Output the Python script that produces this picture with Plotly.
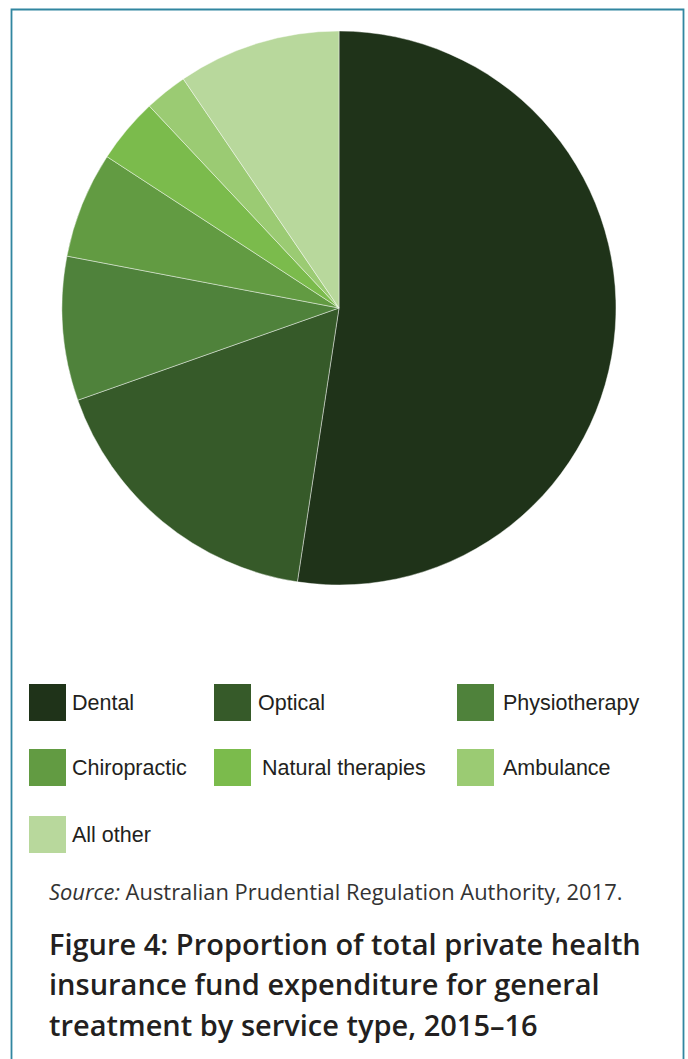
import plotly.graph_objects as go

# Share of general treatment benefits by service type (%)
services = ["Dental", "Optical", "Physiotherapy", "Chiropractic",
            "Natural therapies", "Ambulance", "All other"]
shares = [52.4, 17.2, 8.4, 6.2, 3.8, 2.5, 9.5]
colors = ["#1f3319", "#365a29", "#4f823b", "#629b42",
          "#7bbb4c", "#9bcb73", "#b8d89c"]

source_label = "Source:"
source_text = "Australian Prudential Regulation Authority, 2017."
title_lines = ["Figure 4: Proportion of total private health",
               "insurance fund expenditure for general",
               "treatment by service type, 2015–16"]

W, H = 688, 1059


def px(x):
    return x / W


def py(y):
    return 1 - y / H


# Pie geometry in pixels
cx, cy, r = 339, 308, 277

fig = go.Figure(go.Pie(
    labels=services,
    values=shares,
    sort=False,
    direction="clockwise",
    rotation=0,
    marker=dict(colors=colors, line=dict(color="rgba(255,255,255,0.55)", width=0.8)),
    textinfo="none",
    hoverinfo="label+percent",
    showlegend=False,
    domain=dict(x=[px(cx - r), px(cx + r)], y=[py(cy + r), py(cy - r)]),
))

shapes = []
annotations = []

# Outer frame
shapes.append(dict(type="rect", xref="paper", yref="paper",
                   x0=px(11.5), x1=px(683.5), y0=py(1075), y1=py(9.5),
                   line=dict(color="#3186a0", width=1.8), fillcolor="rgba(0,0,0,0)", layer="below"))

# Manual legend: 3 columns
col_sq = [29, 214, 457]
col_txt = [70, 256, 501]
row_cy = [702.5, 767.5, 834.5]
sq = 37
for i, (name, col) in enumerate(zip(services, colors)):
    row, c = divmod(i, 3)
    yc = row_cy[row]
    shapes.append(dict(type="rect", xref="paper", yref="paper",
                       x0=px(col_sq[c]), x1=px(col_sq[c] + sq),
                       y0=py(yc + sq / 2), y1=py(yc - sq / 2),
                       fillcolor=col, line=dict(width=0)))
    tx = col_txt[c] + (4 if name == "Natural therapies" else 0)
    annotations.append(dict(x=px(tx), y=py(yc + 0.5), xref="paper", yref="paper",
                            text=name, showarrow=False, xanchor="left", yanchor="middle",
                            font=dict(family="Liberation Sans, Arial", size=21.5, color="#231f20")))

# Source note
annotations.append(dict(x=px(47), y=py(891), xref="paper", yref="paper",
                        text=f"<i>{source_label}</i> {source_text}", showarrow=False,
                        xanchor="left", yanchor="middle",
                        font=dict(family="Open Sans", size=21.9, color="#333333")))

# Figure title
for k, line in enumerate(title_lines):
    annotations.append(dict(x=px(47), y=py(943 + 40.5 * k), xref="paper", yref="paper",
                            text=line, showarrow=False,
                            xanchor="left", yanchor="middle",
                            font=dict(family="Open Sans", size=29, weight=600, color="#231f20")))

fig.update_layout(
    width=W, height=H,
    margin=dict(l=0, r=0, t=0, b=0),
    paper_bgcolor="white",
    plot_bgcolor="white",
    shapes=shapes,
    annotations=annotations,
)

fig.write_html("out.html")
